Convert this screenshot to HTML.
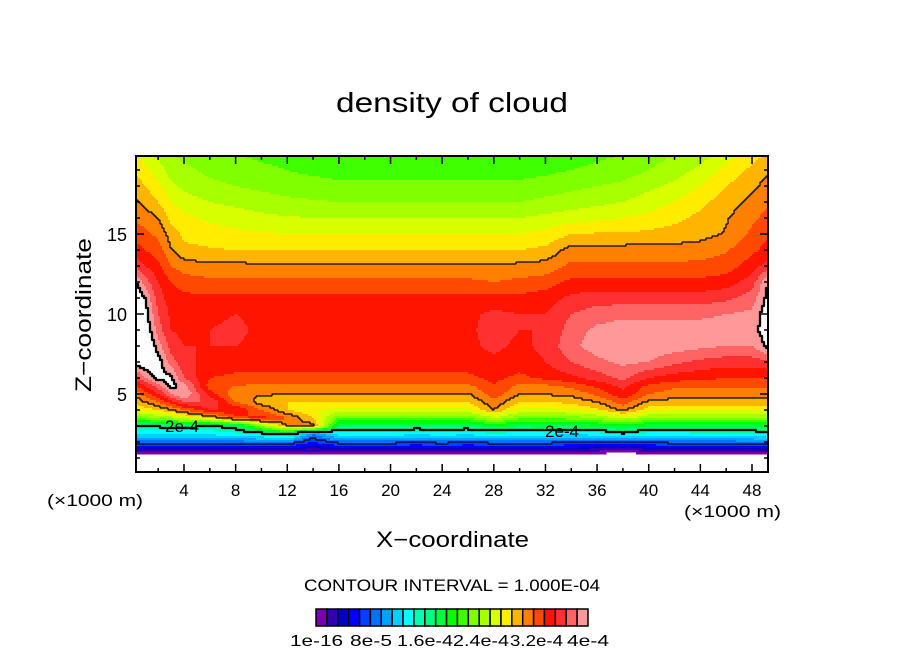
<!DOCTYPE html>
<html><head><meta charset="utf-8">
<style>
html,body{margin:0;padding:0;background:#fff;}
svg{display:block;font-family:"Liberation Sans",sans-serif;}
</style></head>
<body>
<svg id="chart" width="904" height="654" viewBox="0 0 904 654">
  <text x="452" y="112" font-size="28" text-anchor="middle" textLength="232" lengthAdjust="spacingAndGlyphs">density of cloud</text>
  <g id="field"></g>
  <g id="contours"></g>
  <text x="182" y="432" font-size="17" text-anchor="middle">2e-4</text>
  <text x="562" y="437" font-size="17" text-anchor="middle">2e-4</text>
  <rect x="136" y="156" width="632" height="316" fill="none" stroke="#000" stroke-width="2"/>
  <g id="ticks"></g>
  <g id="xlabels" font-size="17" text-anchor="middle"></g>
  <g id="ylabels" font-size="18" text-anchor="end"></g>
  <text x="47" y="506" font-size="17" textLength="96" lengthAdjust="spacingAndGlyphs">(×1000 m)</text>
  <text x="684" y="517" font-size="17" textLength="97" lengthAdjust="spacingAndGlyphs">(×1000 m)</text>
  <text x="376" y="547" font-size="22" textLength="153" lengthAdjust="spacingAndGlyphs">X−coordinate</text>
  <text transform="translate(91,392) rotate(-90)" font-size="22" textLength="154" lengthAdjust="spacingAndGlyphs">Z−coordinate</text>
  <text x="304" y="591" font-size="17" textLength="296" lengthAdjust="spacingAndGlyphs">CONTOUR INTERVAL = 1.000E-04</text>
  <g id="colorbar"></g>
  <g id="cblabels" font-size="16"></g>
</svg>
<script>
// ---- data (units of 1e-4) ----
const xGrid = [0,1,2,3,4,6,8,10,12,14,16,18,20,22,24,26,28,30,32,34,36,38,40,42,44,46,48,50];
const zGrid = [20,19,18,17,16,15,14,13,12,11,10,9,8,7,6,5.5,5,4.5,4,3.5,3,2.5,2,1.5,1,0];
const row20 = [3.4,3.3,3.15,3.0,2.95,2.85,2.8,2.75,2.7,2.68,2.65,2.65,2.65,2.65,2.65,2.65,2.65,2.65,2.65,2.7,2.75,2.8,2.9,3.0,3.1,3.3,3.5,3.7];
const row19 = [3.6,3.45,3.3,3.1,3.05,2.95,2.9,2.85,2.8,2.75,2.72,2.72,2.72,2.72,2.72,2.72,2.72,2.72,2.75,2.8,2.85,2.9,3.0,3.1,3.25,3.45,3.65,3.85];
const row18 = [3.75,3.6,3.45,3.25,3.15,3.05,3.0,2.95,2.9,2.88,2.85,2.85,2.85,2.85,2.85,2.85,2.85,2.85,2.9,2.95,3.0,3.05,3.15,3.25,3.4,3.6,3.75,3.95];
const row17 = [3.85,3.75,3.6,3.4,3.3,3.2,3.15,3.1,3.05,3.02,3.0,3.0,3.0,3.0,3.0,3.0,3.0,3.0,3.05,3.1,3.15,3.2,3.3,3.4,3.55,3.7,3.85,4.05];
const row16 = [4.0,3.9,3.8,3.55,3.45,3.35,3.3,3.25,3.22,3.2,3.2,3.2,3.2,3.2,3.2,3.2,3.2,3.2,3.25,3.3,3.35,3.4,3.45,3.55,3.65,3.78,3.95,4.15];
const row15 = [4.15,4.05,3.95,3.7,3.55,3.5,3.45,3.42,3.4,3.4,3.4,3.4,3.4,3.4,3.4,3.4,3.4,3.4,3.45,3.6,3.62,3.62,3.65,3.68,3.72,3.82,4.05,4.25];
const row14 = [4.3,4.2,4.1,3.82,3.65,3.62,3.6,3.6,3.6,3.6,3.6,3.6,3.6,3.6,3.6,3.6,3.6,3.6,3.65,3.88,3.88,3.88,3.88,3.88,3.9,3.98,4.15,4.35];
const row13 = [4.6,4.4,4.25,4.0,3.9,3.85,3.85,3.84,3.84,3.84,3.84,3.84,3.84,3.84,3.84,3.82,3.82,3.85,3.88,4.05,4.05,4.05,4.05,4.05,4.05,4.1,4.3,4.6];
const row12 = [5.1,4.7,4.4,4.2,4.1,4.05,4.05,4.05,4.05,4.05,4.05,4.05,4.05,4.05,4.05,4.05,4.0,4.05,4.1,4.25,4.25,4.25,4.25,4.25,4.25,4.3,4.5,5.3];
const row11 = [5.3,5.0,4.5,4.3,4.25,4.25,4.25,4.25,4.25,4.25,4.25,4.25,4.25,4.25,4.25,4.25,4.25,4.25,4.3,4.45,4.5,4.5,4.5,4.5,4.5,4.55,4.7,5.3];
const row10 = [5.4,5.1,4.6,4.35,4.3,4.35,4.4,4.35,4.35,4.35,4.35,4.35,4.35,4.35,4.35,4.35,4.45,4.4,4.4,4.6,4.7,4.75,4.75,4.75,4.75,4.8,4.85,5.3];
const row9  = [5.4,5.2,4.7,4.4,4.35,4.4,4.45,4.35,4.35,4.35,4.35,4.35,4.35,4.35,4.35,4.35,4.5,4.4,4.4,4.7,4.85,4.9,4.9,4.9,4.9,4.9,4.9,5.3];
const row8  = [5.4,5.3,4.9,4.5,4.4,4.4,4.4,4.35,4.35,4.4,4.35,4.35,4.35,4.35,4.35,4.35,4.45,4.35,4.45,4.75,4.9,4.9,4.95,4.9,4.85,4.8,4.8,5.2];
const row7  = [5.1,5.2,5.1,4.7,4.45,4.35,4.3,4.3,4.3,4.3,4.3,4.3,4.3,4.3,4.3,4.3,4.35,4.3,4.4,4.6,4.75,4.85,4.8,4.65,4.55,4.5,4.5,4.6];
const row6  = [4.4,4.8,5.1,5.05,4.6,4.2,4.15,4.15,4.15,4.15,4.15,4.15,4.15,4.15,4.15,4.15,4.25,4.15,4.25,4.35,4.5,4.65,4.4,4.3,4.25,4.2,4.2,4.2];
const row5h = [4.1,4.4,4.7,5.1,4.9,4.1,4.0,3.95,3.95,3.95,3.95,3.95,3.95,3.95,3.95,3.95,4.2,3.95,3.95,4.05,4.25,4.45,4.15,4.05,4.05,4.05,4.05,4.05];
const row5  = [3.8,4.1,4.4,4.8,5.02,4.3,3.85,3.82,3.82,3.82,3.82,3.82,3.8,3.8,3.78,3.78,4.1,3.82,3.82,3.85,4.05,4.35,4.0,3.9,3.9,3.88,3.88,3.88];
const row4h = [3.6,3.8,4.0,4.3,4.6,4.6,4.0,3.7,3.6,3.6,3.6,3.6,3.6,3.6,3.6,3.6,3.95,3.6,3.6,3.65,3.8,4.1,3.75,3.72,3.72,3.72,3.72,3.72];
const row4  = [3.4,3.5,3.6,3.8,4.0,4.4,4.4,4.0,3.6,3.4,3.35,3.35,3.35,3.35,3.35,3.35,3.8,3.35,3.35,3.4,3.55,3.85,3.5,3.45,3.45,3.45,3.45,3.45];
const row3h = [2.8,2.9,3.0,3.1,3.3,3.6,4.1,4.3,4.0,3.6,2.8,2.8,2.8,2.8,2.8,2.8,3.2,2.85,2.8,2.9,3.0,3.3,3.0,2.95,2.95,2.95,2.95,3.0];
const row3  = [2.05,2.05,2.05,2.1,2.1,2.0,2.1,3.0,3.8,3.9,2.25,2.2,2.25,2.2,2.25,2.2,2.4,2.25,2.3,2.25,2.35,2.4,2.3,2.3,2.3,2.3,2.3,2.4];
const row2h = [1.6,1.6,1.6,1.6,1.6,1.65,1.75,1.85,2.1,1.2,1.7,1.7,1.7,1.65,1.7,1.65,1.75,1.7,1.7,1.65,1.7,1.95,1.7,1.7,1.75,1.75,1.8,1.9];
const row2  = [1.1,1.1,1.1,1.1,1.1,1.1,1.1,1.15,1.2,0.8,1.1,1.1,1.1,1.05,1.1,1.05,1.1,1.1,1.1,1.05,1.0,0.9,1.05,1.1,1.1,1.1,1.15,1.2];
const row1h = [0.3,0.3,0.3,0.35,0.35,0.4,0.4,0.4,0.4,0.3,0.4,0.4,0.4,0.35,0.4,0.35,0.4,0.4,0.4,0.35,0.3,0.2,0.35,0.4,0.4,0.4,0.4,0.45];
const row1  = [-0.4,-0.4,-0.4,-0.4,-0.4,-0.4,-0.4,-0.4,-0.4,-0.4,-0.4,-0.4,-0.4,-0.4,-0.4,-0.4,-0.4,-0.4,-0.4,-0.4,-0.4,-0.5,-0.4,-0.4,-0.4,-0.4,-0.4,-0.4];
const row0  = [-1,-1,-1,-1,-1,-1,-1,-1,-1,-1,-1,-1,-1,-1,-1,-1,-1,-1,-1,-1,-1,-1,-1,-1,-1,-1,-1,-1];
const fieldRows = [row20,row19,row18,row17,row16,row15,row14,row13,row12,row11,row10,row9,row8,row7,row6,row5h,row5,row4h,row4,row3h,row3,row2h,row2,row1h,row1,row0];
const levelStep = 0.2;
const thinContours = [1.0, 3.8];
const thickContours = [2.0, 5.0];
const xTickLabels = ["4","8","12","16","20","24","28","32","36","40","44","48"];
const xTickValues = [4,8,12,16,20,24,28,32,36,40,44,48];
const yTickValues = [5,10,15];
const yTickLabels = ["5","10","15"];
const cbLabels = ["1e-16","8e-5","1.6e-4","2.4e-4","3.2e-4","4e-4"];
const palette = ["#7800b0","#3000b0","#0000c8","#0000ff","#0040ff","#0070ff","#00a0ff","#00d0ff","#00ffff","#00ffb0","#00ff80","#00ff40","#00ff00","#40ff00","#80ff00","#a8ff00","#d8ff00","#ffec00","#ffb400","#ff8000","#ff4800","#ff1400","#ff3030","#ff6464","#ff9898"];

// ---- scales ----
const PL=136, PR=768, PT=156, PB=472;
const xs = x => 184 + (x-4)*12.909;
const zs = z => 394 - (z-5)*16;
const xInv = p => 4 + (p-184)/12.909;
const zInv = p => 5 - (p-394)/16;
const NS = "http://www.w3.org/2000/svg";
function mk(tag, attrs, parent){const e=document.createElementNS(NS,tag);for(const k in attrs)e.setAttribute(k,attrs[k]);parent.appendChild(e);return e;}

function locate(arr, v){
  const asc = arr[1]>arr[0];
  for(let i=0;i<arr.length-1;i++){
    const a=arr[i], b=arr[i+1];
    if(asc ? (v<=b) : (v>=b)){ let f=(v-a)/(b-a); return [i, Math.max(0,Math.min(1,f))]; }
  }
  return [arr.length-2,1];
}
function sample(x,z){
  const [i,fx]=locate(xGrid,x), [j,fz]=locate(zGrid,z);
  const a=fieldRows[j][i], b=fieldRows[j][i+1], c=fieldRows[j+1][i], d=fieldRows[j+1][i+1];
  return (a*(1-fx)+b*fx)*(1-fz)+(c*(1-fx)+d*fx)*fz;
}
function colorOf(v){
  if(v<0||v>=levelStep*palette.length) return "#ffffff";
  return palette[Math.floor(v/levelStep)];
}

// ---- field ----
const field=document.getElementById('field');
const S=2;
const nx=Math.ceil((PR-PL)/S), nz=Math.ceil((PB-PT)/S);
const vals=[];
for(let j=0;j<nz;j++){
  const row=[];
  for(let i=0;i<nx;i++) row.push(sample(xInv(PL+i*S+S/2), zInv(PT+j*S+S/2)));
  vals.push(row);
  let start=0, col=colorOf(row[0]);
  for(let i=1;i<=nx;i++){
    const c = i<nx?colorOf(row[i]):null;
    if(c!==col){
      if(col!=="#ffffff"){
        const r=mk('rect',{x:PL+start*S,y:PT+j*S,width:(i-start)*S+0.5,height:S+0.5,fill:col},field);
        
        
      }
      start=i; col=c;
    }
  }
}
// ---- contours ----
const cg=document.getElementById('contours');
function drawContour(level, w){
  for(let j=0;j<nz;j++)for(let i=0;i<nx;i++){
    const s=vals[j][i]>=level;
    const px=PL+i*S, py=PT+j*S;
    if(i+1<nx && (vals[j][i+1]>=level)!==s){
      const r=mk('rect',{x:px+S-w/2,y:py-w/2+0.5,width:w,height:S+w-1,fill:'#000'},cg);
      
      
    }
    if(j+1<nz && (vals[j+1][i]>=level)!==s){
      const r=mk('rect',{x:px-w/2+0.5,y:py+S-w/2,width:S+w-1,height:w,fill:'#000'},cg);
      
      
    }
  }
}
thinContours.forEach(l=>drawContour(l,1.2));
thickContours.forEach(l=>drawContour(l,2.2));

// ---- ticks ----
const tg=document.getElementById('ticks');
for(let x=2;x<=48;x+=2){
  const L = x%4===0?8:4, px=xs(x);
  const a=mk('line',{x1:px,x2:px,y1:PB,y2:PB-L,stroke:'#000','stroke-width':1.5},tg);
   
  const b=mk('line',{x1:px,x2:px,y1:PT,y2:PT+L,stroke:'#000','stroke-width':1.5},tg);
   
}
for(let z=1;z<=19;z++){
  const L = z%5===0?8:4, py=zs(z);
  const a=mk('line',{x1:PL,x2:PL+L,y1:py,y2:py,stroke:'#000','stroke-width':1.5},tg);
   
  const b=mk('line',{x1:PR,x2:PR-L,y1:py,y2:py,stroke:'#000','stroke-width':1.5},tg);
   
}
const xl=document.getElementById('xlabels');
xTickValues.forEach((v,k)=>{const t=mk('text',{x:xs(v),y:496},xl);t.textContent=xTickLabels[k];
   });
const yl=document.getElementById('ylabels');
yTickValues.forEach((v,k)=>{const t=mk('text',{x:127,y:zs(v)+7},yl);t.textContent=yTickLabels[k];
   });

// ---- colorbar ----
const cb=document.getElementById('colorbar');
const cbX=316, cbW=(588-316)/palette.length;
palette.forEach((c,k)=>{const r=mk('rect',{x:cbX+k*cbW,y:609,width:cbW,height:17,fill:c,stroke:'#000','stroke-width':1.5},cb);
   });
const cbl=document.getElementById('cblabels');
const cbLeft=[290,350,397,453,510,567];
const cbLen=[53,42,56,56,53,42];
cbLabels.forEach((s,k)=>{const t=mk('text',{x:cbLeft[k],y:646,textLength:cbLen[k],lengthAdjust:'spacingAndGlyphs'},cbl);t.textContent=s;
   });
</script>
</body></html>
